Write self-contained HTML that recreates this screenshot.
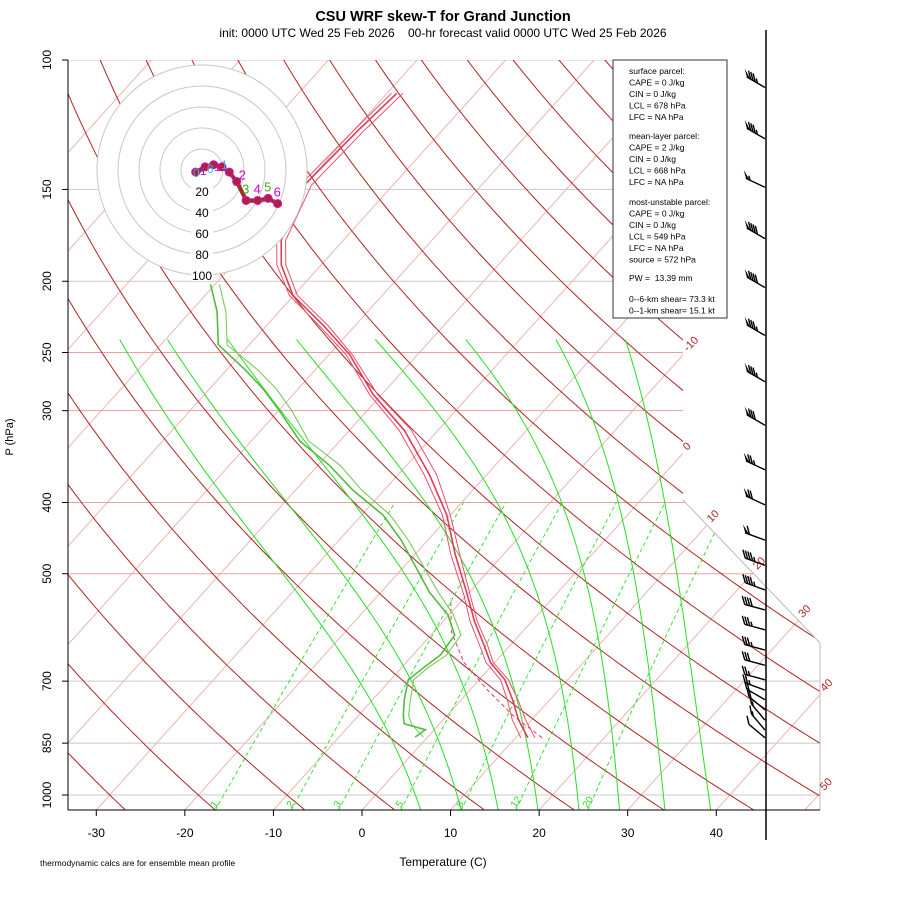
<!DOCTYPE html>
<html><head><meta charset="utf-8">
<style>
body{margin:0;background:#fff;}
svg text{font-family:"Liberation Sans",sans-serif;}
</style></head>
<body>
<svg id="chart" width="900" height="900" viewBox="0 0 900 900" xmlns="http://www.w3.org/2000/svg">
<defs>
<clipPath id="plotclip"><polygon points="68,60 683,60 683,500 820,643 820,810 68,810"/></clipPath>
</defs>
<rect x="0" y="0" width="900" height="900" fill="#fff"/>
<text x="443" y="21" text-anchor="middle" font-size="14.5" font-weight="bold">CSU WRF skew-T for Grand Junction</text>
<text x="443" y="37" text-anchor="middle" font-size="12" xml:space="preserve">init: 0000 UTC Wed 25 Feb 2026    00-hr forecast valid 0000 UTC Wed 25 Feb 2026</text>
<g id="grid" clip-path="url(#plotclip)"></g>
<g id="profiles" clip-path="url(#plotclip)"></g>
<g id="labels"></g>
<g id="hodo"></g>
<g id="barbs"></g>
<line x1="766" y1="30" x2="766" y2="840" stroke="#000" stroke-width="1.5"/>
<g>
<rect x="613" y="60" width="114" height="258" fill="#fff" stroke="#333" stroke-width="1"/>
<g font-size="8.5" fill="#000">
<text x="629" y="74">surface parcel:</text>
<text x="629" y="85.5">CAPE = 0 J/kg</text>
<text x="629" y="97">CIN = 0 J/kg</text>
<text x="629" y="108.5">LCL = 678 hPa</text>
<text x="629" y="120">LFC = NA hPa</text>
<text x="629" y="139">mean-layer parcel:</text>
<text x="629" y="150.5">CAPE = 2 J/kg</text>
<text x="629" y="162">CIN = 0 J/kg</text>
<text x="629" y="173.5">LCL = 668 hPa</text>
<text x="629" y="185">LFC = NA hPa</text>
<text x="629" y="205">most-unstable parcel:</text>
<text x="629" y="216.5">CAPE = 0 J/kg</text>
<text x="629" y="228">CIN = 0 J/kg</text>
<text x="629" y="239.5">LCL = 549 hPa</text>
<text x="629" y="251">LFC = NA hPa</text>
<text x="629" y="262.5">source = 572 hPa</text>
<text x="629" y="281" xml:space="preserve">PW =  13.39 mm</text>
<text x="629" y="302">0--6-km shear= 73.3 kt</text>
<text x="629" y="313.5">0--1-km shear= 15.1 kt</text>
</g></g>
<text x="443" y="866" text-anchor="middle" font-size="12">Temperature (C)</text>
<text transform="translate(13,437) rotate(-90)" text-anchor="middle" font-size="11">P (hPa)</text>
<text x="40" y="866" font-size="8.5">thermodynamic calcs are for ensemble mean profile</text>
<script>
// ---- data ----
const pTicks=[100,150,200,250,300,400,500,700,850,1000];
const tTicks=[-30,-20,-10,0,10,20,30,40];
const isoLabels=[-10,0,10,20,30,40,50];
const mixRatios=[1,2,3,5,8,12,20];
// moist adiabats: temperature at 1000 hPa and at the 250 hPa top
const moistBase=[4.5,9.2,13.5,18.1,22.8,27.4,32.5,37.6];
const moistTop=[-73,-67.5,-60.6,-52.7,-43.7,-33.6,-23.8,-16.3];
// temperature profile (ensemble members)
const tP=[836,790,742,697,660,625,580,535,470,416,367,319,285,252,230,209,190,176,148,125,111];
const tA=[11.4,8.5,5.8,2.9,-0.5,-3.0,-6.5,-9.9,-15.5,-20.4,-26.4,-33.8,-41.0,-47.6,-53.5,-60.1,-64.5,-67.0,-70.0,-69.5,-68.9];
const tB=[12.2,9.3,6.4,3.3,-0.2,-2.6,-6.2,-9.6,-15.0,-20.0,-25.6,-33.0,-40.5,-47.3,-53.0,-59.6,-64.0,-66.5,-69.2,-68.8,-68.2];
const tC=[10.6,7.8,5.2,2.4,-1.0,-3.5,-7.0,-10.3,-16.0,-20.9,-27.0,-34.4,-41.4,-48.0,-54.0,-60.5,-65.0,-67.5,-70.5,-70.0,-69.5];
// dewpoint profile
const dP=[834,815,800,778,740,697,670,645,606,569,530,487,450,416,385,356,330,300,280,264,244,220,202];
const dA=[-1.4,-1.0,-4.0,-5.0,-6.5,-8.0,-7.5,-6.9,-7.3,-10.1,-14.5,-18.9,-23.0,-27.6,-33.5,-38.7,-44.5,-49.9,-54.0,-57.9,-63.5,-67.0,-70.5];
const dB=[-0.5,-2.0,-3.2,-4.4,-5.8,-7.4,-7.0,-6.2,-6.6,-9.5,-13.5,-18.0,-22.2,-26.8,-32.5,-37.5,-43.5,-48.5,-52.5,-56.5,-62.5,-66.0,-69.5];
// parcel (dashed)
const parP=[836,780,720,660,600,540];
const parT=[13.0,7.5,2.0,-3.5,-8.0,-11.5];
// hodograph (kt)
const hu=[-6,3,11,19,26,33,42,53,63,72];
const hv=[-2,3,5,3,-2,-11,-29,-29,-27,-32];
// wind barbs
const bP=[109,128,149,175,204,237,274,314,361,403,450,487,526,560,596,635,666,697,720,742,766,791,816,836];
const bDir=[300,300,295,300,300,300,300,300,295,295,290,290,290,285,285,285,285,285,290,300,310,320,320,310];
const bSpd=[85,85,55,90,90,85,85,80,75,70,60,45,45,40,35,35,30,25,25,20,20,15,15,10];

// ---- axes ----
const NS="http://www.w3.org/2000/svg";
function yP(p){return 60+735*Math.log10(p/100);}
function xT(t,p){return 362+8.857*t+0.9*(810-yP(p));}
function mk(tag,attrs,parent){const e=document.createElementNS(NS,tag);for(const k in attrs)e.setAttribute(k,attrs[k]);parent.appendChild(e);return e;}
function path(pts){return pts.map((q,i)=>(i?'L':'M')+q[0].toFixed(1)+','+q[1].toFixed(1)).join('');}
const grid=document.getElementById('grid'),prof=document.getElementById('profiles'),lab=document.getElementById('labels');
const plevs=[];for(let p=1050;p>=100;p-=5)plevs.push(p);

// isotherms
for(let t=-150;t<=50;t+=10){
 const l=mk('line',{x1:xT(t,1050),y1:yP(1050),x2:xT(t,100),y2:yP(100),stroke:'#eeb4b4','stroke-width':1},grid);
 
 
}
// pressure lines
pTicks.forEach(p=>{
 const pink=(p>=250&&p<=500);
 const l=mk('line',{x1:68,y1:yP(p),x2:820,y2:yP(p),stroke:pink?'#eba0a0':'#c8c8c8','stroke-width':1},grid);
 
 
});
// dry adiabats
for(let th=-40;th<=170;th+=10){
 const pts=plevs.map(p=>{const T=(th+273.15)*Math.pow(p/1000,0.2857)-273.15;return [xT(T,p),yP(p)];});
 const e=mk('path',{d:path(pts),fill:'none',stroke:'#b22222','stroke-width':1},grid);
 
 
}
// moist adiabats (pseudo-adiabat shape, rescaled to the chart's end temperatures)
function es(T){return 6.112*Math.exp(17.67*T/(T+243.5));}
function gm(T,p){const Tk=T+273.15,e=es(T),r=0.622*e/(p-e),L=2.5e6;
 return (287*Tk+L*r)/(1004+L*L*r*0.622/(287*Tk*Tk))/p;}
moistBase.forEach((tb,i)=>{
 const raw=[];let T=tb;
 for(let q=1000;q<1050;q++){T+=gm(T,q);}
 for(let p=1050;p>=240;p--){ raw.push([p,T]); T-=gm(T,p);}
 const tAt250=raw.find(r=>r[0]===250)[1];
 const k=(moistTop[i]-tb)/(tAt250-tb);
 const pts=raw.filter(r=>r[0]%5===0).map(r=>{const t=tb+(r[1]-tb)*k;return [xT(t,r[0]),yP(r[0])];});
 const e=mk('path',{d:path(pts),fill:'none',stroke:'#22e022','stroke-width':1},grid);
 
 
});
// mixing ratio lines
function tdw(w,p){const e=w*p/(622+w),a=Math.log(e/6.112);return 243.5*a/(17.67-a);}
mixRatios.forEach(w=>{
 const pts=[];for(let p=1050;p>=400;p-=10)pts.push([xT(tdw(w,p),p),yP(p)]);
 const e=mk('path',{d:path(pts),fill:'none',stroke:'#22e022','stroke-width':0.9,'stroke-dasharray':'4,3'},grid);
 
 
 const lx=xT(tdw(w,1030),1030)-3,ly=yP(1030)+4;
 const tx=mk('text',{x:lx,y:ly,'font-size':10,fill:'#22dd22',transform:`rotate(-55 ${lx} ${ly})`},lab);
 tx.textContent=w;
 
 
});
// boundary line
mk('polyline',{points:'683,500 820,643 820,810',fill:'none',stroke:'#bbb','stroke-width':1},lab);
// isotherm labels (where each isotherm meets the right boundary)
isoLabels.forEach(t=>{
 let y=810;
 for(let yy=810;yy>=60;yy--){const p=100*Math.pow(10,(yy-60)/735);const x=xT(t,p);
  const bx=yy<500?683:(yy<643?683+(yy-500)*137/143:820); if(x>=bx){y=yy;break;}}
 const p=100*Math.pow(10,(y-60)/735);const lx=xT(t,p)+4,ly=y-2;
 const tx=mk('text',{x:lx,y:ly,'font-size':11,fill:'#b22222',transform:`rotate(-45 ${lx} ${ly})`},lab);
 tx.textContent=t;
 
 
});
// profiles
function drawProf(P,T,color,w,name,dash){
 const e=mk('path',{d:path(P.map((p,i)=>[xT(T[i],p),yP(p)])),fill:'none',stroke:color,'stroke-width':w},prof);
 if(dash)e.setAttribute('stroke-dasharray',dash);
 
 
}
drawProf(tP,tB,'#e8506a',1,'temperature-member');
drawProf(tP,tC,'#e8506a',1,'temperature-member');
drawProf(tP,tA,'#e03c5a',1.6,'temperature-mean');
drawProf(parP,parT,'#e03c5a',1,'parcel-trace','4,3');
drawProf(dP,dB,'#6cc850',1,'dewpoint-member');
drawProf(dP,dA,'#55bb40',1.6,'dewpoint-mean');
// axes
mk('line',{x1:68,y1:60,x2:68,y2:810,stroke:'#000','stroke-width':1},lab);
pTicks.forEach(p=>{
 mk('line',{x1:62,y1:yP(p),x2:68,y2:yP(p),stroke:'#000'},lab);
 const tx=mk('text',{x:51,y:yP(p),'font-size':12,'text-anchor':'middle',transform:`rotate(-90 51 ${yP(p)})`},lab);
 tx.textContent=p;
 
 
});
mk('line',{x1:68,y1:810,x2:820,y2:810,stroke:'#000'},lab);
tTicks.forEach(t=>{
 const x=362+8.857*t;
 mk('line',{x1:x,y1:810,x2:x,y2:816,stroke:'#000'},lab);
 const tx=mk('text',{x:x,y:837,'font-size':12,'text-anchor':'middle'},lab);
 tx.textContent=t;
 
 
});
// hodograph
const hg=document.getElementById('hodo');
const hc=[202,170],hs=1.05;
mk('circle',{cx:hc[0],cy:hc[1],r:105,fill:'#fff',stroke:'none'},hg);
[20,40,60,80,100].forEach(r=>{
 const c=mk('circle',{cx:hc[0],cy:hc[1],r:r*hs,fill:'none',stroke:'#c8c8c8','stroke-width':1},hg);
 
 
});
[20,40,60,80,100].forEach(r=>{
 mk('rect',{x:hc[0]-11,y:hc[1]+r*hs-7,width:22,height:13,fill:'#fff'},hg);
 const tx=mk('text',{x:hc[0],y:hc[1]+r*hs+5,'font-size':12,'text-anchor':'middle'},hg);
 tx.textContent=r;
 
 
});
const hpts=hu.map((u,i)=>[hc[0]+u*hs,hc[1]-hv[i]*hs]);
mk('path',{d:path(hpts.map(q=>[q[0]+1,q[1]+1])),fill:'none',stroke:'#33cc33','stroke-width':3.5},hg);
const hl2=mk('path',{d:path(hpts),fill:'none',stroke:'#a52a2a','stroke-width':4},hg);


hpts.forEach(q=>{
 const c=mk('circle',{cx:q[0],cy:q[1],r:4,fill:'#a52a2a',stroke:'#e000e0','stroke-width':1},hg);
 
 
});
const hk=['0','1','1','1','5','2','3','4','5','6'];
hpts.forEach((q,i)=>{
 if(i<5) return;
 const tx=mk('text',{x:q[0]-4+(i>5?0:6),y:q[1]-(i>5?7:2),'font-size':13,fill:i%2?'#cc00cc':'#44aa22'},hg);
 tx.textContent=hk[i];
 
 
});
['0','1','0','1','1'].forEach((s,i)=>{
 const tx=mk('text',{x:193+i*7,y:177-i*2,'font-size':12,fill:i%2?'#cc00cc':'#22bbcc'},hg);
 tx.textContent=s;
 
 
});
// wind barbs
const bg=document.getElementById('barbs');
bP.forEach((p,i)=>{
 const d=bDir[i]*Math.PI/180,ux=Math.sin(d),uy=-Math.cos(d);
 const bx=765,by=yP(p),L=21;
 const tx=bx+ux*L,ty=by+uy*L;
 const vx=ux*2.5,vy=-8.5;
 const g=mk('g',{},bg);
 
 
 mk('line',{x1:bx,y1:by,x2:tx,y2:ty,stroke:'#000','stroke-width':1.4},g);
 let s=bSpd[i],pos=0;
 while(s>=50){const ax=tx-ux*pos,ay=ty-uy*pos;
  mk('polygon',{points:`${ax},${ay} ${ax+vx},${ay+vy} ${ax-ux*4},${ay-uy*4}`,fill:'#000'},g);pos+=4;s-=50;}
 if(pos>0)pos+=0.5;
 while(s>=10){const ax=tx-ux*pos,ay=ty-uy*pos;
  mk('line',{x1:ax,y1:ay,x2:ax+vx,y2:ay+vy,stroke:'#000','stroke-width':1.4},g);pos+=2.6;s-=10;}
 if(s>=5){const ax=tx-ux*pos,ay=ty-uy*pos;
  mk('line',{x1:ax,y1:ay,x2:ax+vx*0.55,y2:ay+vy*0.55,stroke:'#000','stroke-width':1.4},g);}
});
</script>
</svg>
</body></html>
